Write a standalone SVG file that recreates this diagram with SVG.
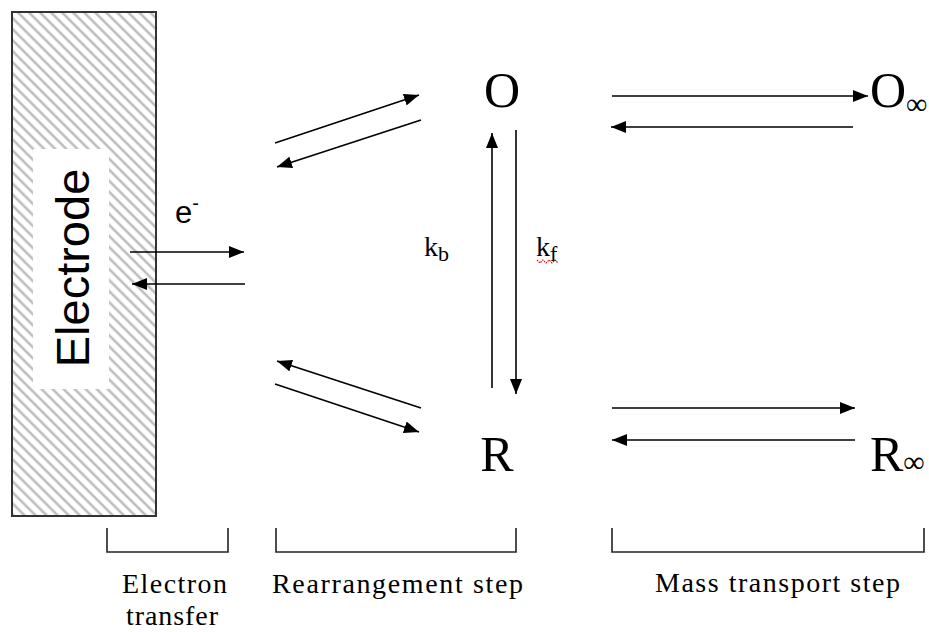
<svg xmlns="http://www.w3.org/2000/svg" width="929" height="632" viewBox="0 0 929 632">
<defs>
<pattern id="hatch" patternUnits="userSpaceOnUse" width="7.8" height="7.8" patternTransform="rotate(-45)">
<line x1="3.9" y1="0" x2="3.9" y2="7.8" stroke="#bdbdbd" stroke-width="2.6"/>
</pattern>
<marker id="ah" markerUnits="userSpaceOnUse" markerWidth="16" markerHeight="12" refX="15" refY="6" orient="auto">
<path d="M0,0 L15,6 L0,12 z" fill="#000"/>
</marker>
</defs>
<style>
.ar{stroke:#000;stroke-width:1.6;fill:none;marker-end:url(#ah)}
.br{stroke:#222;stroke-width:1.6;fill:none}
.big{font-family:"Liberation Serif",serif;font-size:50px;fill:#000}
.inf{font-family:"Liberation Serif",serif;font-size:30px;fill:#000}
.lbl{font-family:"Liberation Serif",serif;font-size:28px;fill:#000}
.k{font-family:"Liberation Serif",serif;font-size:28px;fill:#000}
.ks{font-family:"Liberation Serif",serif;font-size:22px;fill:#000}
</style>
<rect width="929" height="632" fill="#fff"/>
<g id="electrode">
<rect x="12" y="12" width="144" height="504" fill="url(#hatch)" stroke="#333" stroke-width="2"/>
<rect x="33" y="149" width="76" height="240" fill="#fff"/>
<text transform="translate(89,268) rotate(-90)" text-anchor="middle" font-family="Liberation Sans, Arial, sans-serif" font-size="47">Electrode</text>
</g>
<g id="e-label">
<text x="175" y="223" font-family="Liberation Sans, Arial, sans-serif" font-size="31">e<tspan font-size="20" dy="-13">-</tspan></text>
</g>
<g id="O">
<text class="big" x="502" y="107" text-anchor="middle">O</text>
</g>
<g id="R">
<text class="big" x="497" y="471" text-anchor="middle">R</text>
</g>
<g id="Oinf">
<text class="big" x="870" y="107">O<tspan class="inf" dy="7">∞</tspan></text>
</g>
<g id="Rinf">
<text class="big" x="870" y="471">R<tspan class="inf" dy="1">∞</tspan></text>
</g>
<g id="kb">
<text class="k" x="424" y="256">k<tspan class="ks" dy="5">b</tspan></text>
</g>
<g id="kf">
<text class="k" x="536" y="256">k<tspan class="ks" dy="5">f</tspan></text>
<polyline points="537,260 540,263 543,260 546,263 549,260 552,263 555,260 558,263" fill="none" stroke="#e00" stroke-width="1.2" stroke-dasharray="1.5,1"/>
</g>
<g id="connectors">
<line class="ar" x1="130" y1="252" x2="244" y2="252"/>
<line class="ar" x1="245" y1="284" x2="132" y2="284"/>
<line class="ar" x1="275" y1="143" x2="419" y2="95"/>
<line class="ar" x1="421" y1="120" x2="277" y2="167"/>
<line class="ar" x1="421" y1="408" x2="277" y2="361"/>
<line class="ar" x1="275" y1="384" x2="419" y2="432"/>
<line class="ar" x1="492" y1="388" x2="492" y2="133"/>
<line class="ar" x1="516" y1="130" x2="516" y2="394"/>
<line class="ar" x1="612" y1="96" x2="868" y2="96"/>
<line class="ar" x1="853" y1="127" x2="611" y2="127"/>
<line class="ar" x1="612" y1="408" x2="855" y2="408"/>
<line class="ar" x1="855" y1="440" x2="612" y2="440"/>
</g>
<g id="brackets">
<polyline class="br" points="107,528 107,552 228,552 228,528"/>
<polyline class="br" points="276,528 276,552 516,552 516,528"/>
<polyline class="br" points="612,528 612,552 924,552 924,528"/>
</g>
<g id="labels">
<text class="lbl" x="122" y="593" textLength="105" lengthAdjust="spacing">Electron</text>
<text class="lbl" x="126" y="625" textLength="92" lengthAdjust="spacing">transfer</text>
<text class="lbl" x="272" y="593" textLength="251" lengthAdjust="spacing">Rearrangement step</text>
<text class="lbl" x="655" y="592" textLength="245" lengthAdjust="spacing">Mass transport step</text>
</g>
</svg>
